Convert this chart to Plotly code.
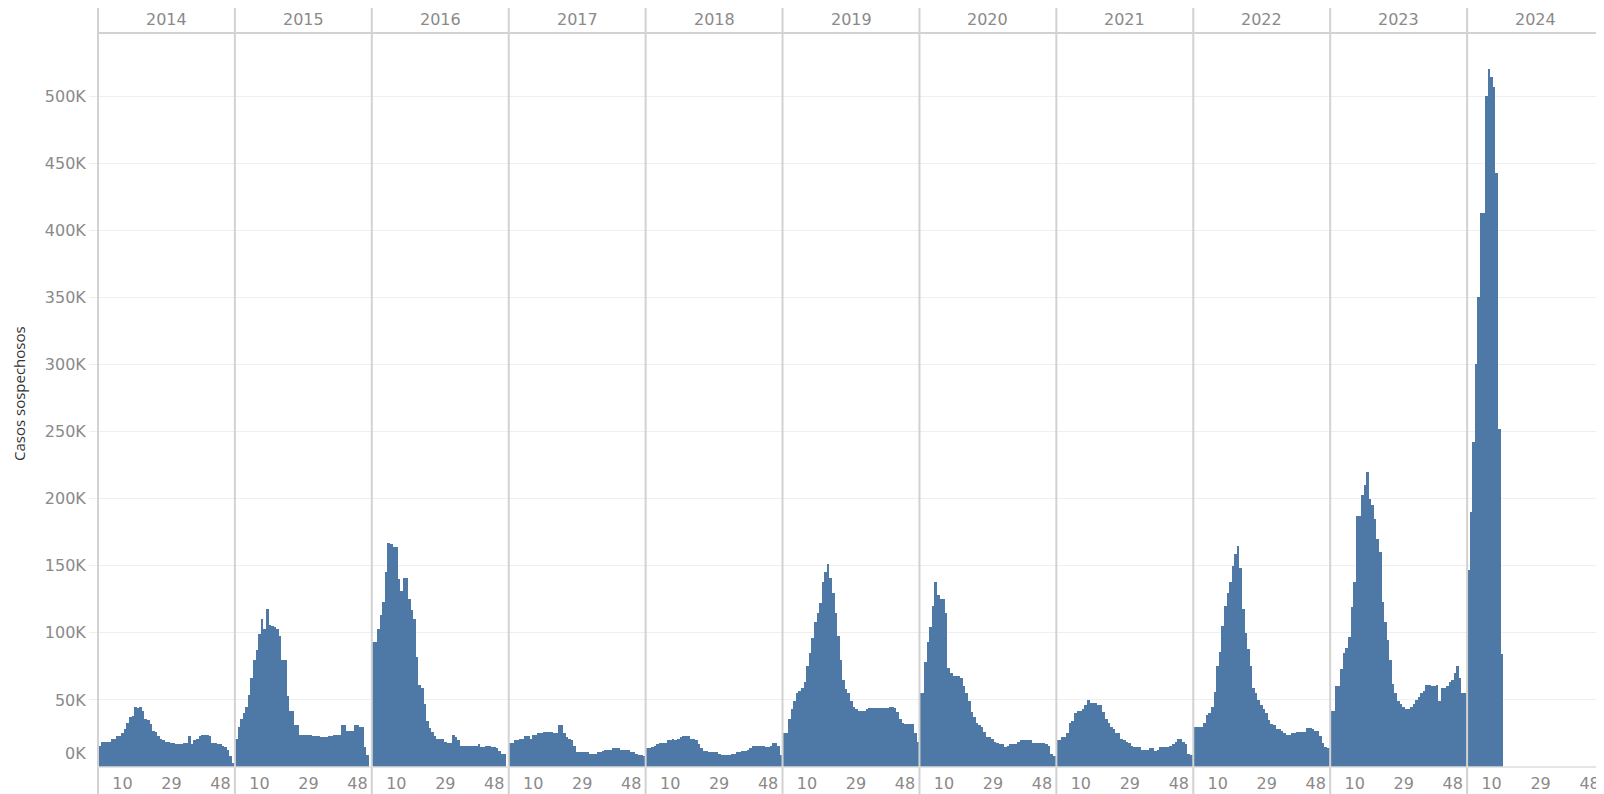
import plotly.graph_objects as go

# ---------------- data (weekly suspected cases, in thousands) ----------------
years = ["2014", "2015", "2016", "2017", "2018", "2019",
         "2020", "2021", "2022", "2023", "2024"]

week_ticks = [10, 29, 48]
y_tick_vals = [50, 100, 150, 200, 250, 300, 350, 400, 450, 500]
y_tick_text = ["50K", "100K", "150K", "200K", "250K", "300K",
               "350K", "400K", "450K", "500K"]

cases_2014 = [16, 19, 19, 19, 19, 21, 21, 23, 23, 25, 28, 33, 37, 38, 45, 44, 45, 42,
              36, 35, 32, 27, 26, 23, 21, 20, 19, 19, 18, 18, 17, 17, 17.5, 18, 18, 23,
              17, 20, 21, 23, 24, 24, 24, 23, 18, 18, 17, 17, 16, 15, 13, 8, 3]
cases_2015 = [21, 30, 36, 40, 45, 54, 66, 80, 87, 99, 110, 103, 118, 106, 105, 104, 103,
              98, 80, 80, 53, 42, 42, 31, 31, 24, 24, 24, 24, 24, 23, 23, 23, 22, 22, 22,
              23, 23, 24, 24, 24, 31, 31, 27, 27, 27, 31, 31, 30, 30, 15, 9]
cases_2016 = [93, 93, 103, 113, 123, 145, 167, 166, 164, 164, 140, 131, 141, 141, 125,
              117, 110, 82, 61, 59, 47, 34, 29, 26, 23, 21, 21, 21, 19, 18, 18, 24, 22,
              20, 16, 16, 16, 16, 16, 16, 16, 17, 15, 15, 16, 16, 15, 15, 14, 12, 10, 10]
cases_2017 = [18, 18, 20, 20, 21, 21, 23, 23, 21, 24, 24, 25, 25, 26, 26, 26, 26, 25, 25,
              31, 31, 25, 22, 21, 20, 16, 11, 11, 11, 11, 11, 10, 10, 10, 11, 11, 12, 13,
              13, 13, 14, 14, 14, 13, 13, 13, 13, 11, 11, 10, 9, 9, 8]
cases_2018 = [14, 14, 15, 16, 17, 18, 18, 18, 20, 20, 21, 20, 21, 22, 23, 23, 23, 21, 21,
              20, 17, 14, 12, 12, 11, 11, 11, 11, 10, 9, 9, 9, 9, 10, 10, 11, 11, 12, 12,
              13, 14, 16, 16, 16, 16, 16, 15, 15, 16, 18, 18, 16, 9]
cases_2019 = [25, 25, 36, 43, 49, 55, 57, 59, 63, 75, 85, 96, 108, 115, 122, 138, 145,
              151, 141, 130, 115, 98, 80, 65, 58, 55, 49, 45, 43, 42, 42, 42, 43, 44, 44,
              44, 44, 44, 44, 44, 44, 45, 45, 44, 41, 36, 33, 32, 32, 32, 32, 25, 19]
cases_2020 = [55, 55, 78, 93, 104, 120, 138, 128, 125, 125, 115, 74, 70, 68, 68, 68, 66,
              60, 55, 49, 41, 37, 33, 31, 30, 26, 22, 22, 21, 19, 18, 17, 17, 15, 16, 17,
              17, 17, 19, 20, 20, 20, 20, 20, 18, 18, 18, 18, 18, 17, 16, 10, 8]
cases_2021 = [20, 20, 22, 22, 25, 33, 34, 40, 42, 42, 43, 46, 50, 48, 48, 48, 46, 46, 41,
              36, 33, 30, 28, 25, 25, 21, 20, 19, 18, 16, 15, 15, 15, 13, 13, 13, 14, 14,
              12, 13, 15, 15, 15, 15, 16, 17, 19, 21, 21, 19, 17, 10, 9]
cases_2022 = [30, 30, 30, 30, 33, 39, 40, 45, 56, 75, 86, 105, 120, 130, 138, 150, 159,
              165, 148, 118, 100, 88, 75, 59, 55, 50, 46, 43, 40, 35, 32, 31, 28, 28, 27,
              25, 24, 24, 25, 25, 26, 26, 26, 26, 29, 29, 28, 27, 27, 23, 18, 15, 14]
cases_2023 = [42, 42, 60, 60, 73, 85, 89, 97, 119, 138, 187, 187, 203, 210, 220, 200,
              195, 185, 170, 160, 123, 108, 95, 80, 62, 55, 49, 47, 45, 43, 43, 45, 47,
              50, 52, 55, 57, 61, 61, 60, 60, 61, 49, 59, 59, 60, 63, 65, 70, 75, 66, 55, 55]
cases_2024 = [147, 190, 242, 300, 350, 413, 413, 500, 520, 514, 507, 443, 252, 84]

series = [cases_2014, cases_2015, cases_2016, cases_2017, cases_2018, cases_2019,
          cases_2020, cases_2021, cases_2022, cases_2023, cases_2024]

# ---------------- styling ----------------
# the page body has an 8px margin, so the figure is a bit smaller than the window
W, H = 1596, 786
ML, MR, MT, MB = 90, 0, 25, 27
PH = H - MT - MB
BAR = "#4e79a7"
TICK_GREY = "#8a8a8a"
SEP = "#d2d2d2"
FONT = "DejaVu Sans"

fig = go.Figure()
n = len(years)
layout_axes = {}
for i, (yr, vals) in enumerate(zip(years, series)):
    xname = "x" if i == 0 else f"x{i + 1}"
    fig.add_trace(go.Bar(
        x=list(range(1, len(vals) + 1)), y=vals, width=1,
        xaxis=xname, yaxis="y",
        marker=dict(color=BAR, line=dict(width=0)),
        showlegend=False, name=yr,
        hovertemplate="Semana %{x}<br>%{y}K<extra>" + yr + "</extra>",
    ))
    key = "xaxis" if i == 0 else f"xaxis{i + 1}"
    layout_axes[key] = dict(
        domain=[i / n, (i + 1) / n], range=[0.5, 53.6], anchor="y",
        tickmode="array", tickvals=week_ticks, ticktext=[str(t) for t in week_ticks],
        showgrid=False, zeroline=False, showline=False,
        ticks="outside", ticklen=2, tickcolor="rgba(0,0,0,0)",
        tickfont=dict(family=FONT, size=16, color=TICK_GREY),
        fixedrange=True,
    )

fig.update_layout(**layout_axes)
fig.update_layout(
    width=W, height=H, autosize=False,
    margin=dict(l=ML, r=MR, t=MT, b=MB),
    paper_bgcolor="white", plot_bgcolor="white",
    bargap=0, barmode="overlay",
    yaxis=dict(
        domain=[0, 1], range=[0, 547], anchor="x",
        tickmode="array", tickvals=y_tick_vals, ticktext=y_tick_text,
        showgrid=True, gridcolor="#efefef", gridwidth=1,
        zeroline=False, showline=False,
        ticks="outside", ticklen=8, tickcolor="#efefef",
        tickfont=dict(family=FONT, size=16, color=TICK_GREY),
        fixedrange=True,
    ),
)

shapes = []
top_y = 1 + MT / PH
bot_y = -MB / PH
for i in range(n + 1):
    shapes.append(dict(type="line", xref="paper", yref="paper",
                       x0=i / n, x1=i / n, y0=bot_y, y1=top_y,
                       line=dict(color=SEP, width=2), layer="above"))
shapes.append(dict(type="line", xref="paper", yref="paper", x0=0, x1=1, y0=1, y1=1,
                   line=dict(color=SEP, width=2), layer="above"))
shapes.append(dict(type="line", xref="paper", yref="paper", x0=0, x1=1, y0=0, y1=0,
                   line=dict(color="#dcdcdc", width=1.5), layer="above"))
fig.update_layout(shapes=shapes)

annotations = []
for i, yr in enumerate(years):
    annotations.append(dict(text=yr, xref="paper", yref="paper",
                            x=(i + 0.5) / n, y=1 + 14 / PH, xanchor="center", yanchor="middle",
                            showarrow=False, font=dict(family=FONT, size=16, color=TICK_GREY)))
annotations.append(dict(text="0K", xref="paper", yref="y", x=0, y=0,
                        xanchor="right", yanchor="middle", xshift=-10, yshift=14,
                        showarrow=False, font=dict(family=FONT, size=16, color=TICK_GREY)))
annotations.append(dict(text="Casos sospechosos", xref="paper", yref="paper",
                        x=(11 - ML) / (W - ML - MR), y=0.5 + 6 / PH, textangle=-90,
                        xanchor="center", yanchor="middle", showarrow=False,
                        font=dict(family="Open Sans", size=15, color="#333333")))
fig.update_layout(annotations=annotations)

fig.write_html("out.html")
